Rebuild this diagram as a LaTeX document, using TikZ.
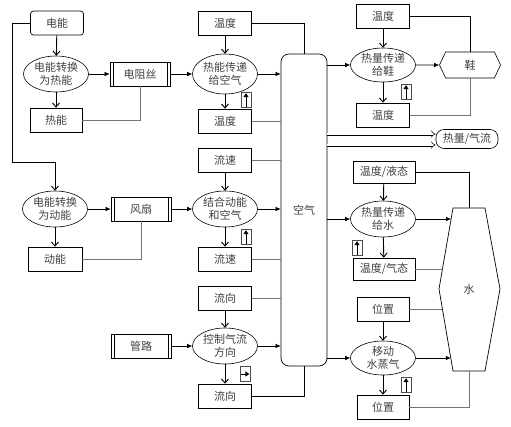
\documentclass[tikz,border=0pt]{standalone}
\usepackage{fontspec}
\setmainfont{Noto Sans CJK SC}
\usetikzlibrary{shapes.geometric,shapes.symbols,arrows.meta,calc}

\begin{document}
\begin{tikzpicture}
  [x=1pt, y=-1pt, font=\fontsize{11}{13}\selectfont, text=black!75,
   state box/.style={draw, line width=0.7pt, minimum width=53pt, minimum height=24pt, inner sep=1pt},
   act ell/.style={draw, ellipse, line width=0.6pt, minimum width=65pt, minimum height=36pt, inner sep=0pt, align=center},
   dev box/.style={state box, minimum width=60pt, path picture={
       \draw ([xshift=3pt]path picture bounding box.north west) -- ([xshift=3pt]path picture bounding box.south west);
       \draw ([xshift=-3pt]path picture bounding box.north east) -- ([xshift=-3pt]path picture bounding box.south east);}},
   sensor/.style={draw=black!70, line width=0.6pt, minimum width=10pt, minimum height=15pt, inner sep=0pt},
   sensor arrow/.style={-{Triangle[length=4pt,width=5pt]}, line width=1pt},
   h arrow/.style={-{Latex[length=5pt,width=4.5pt]}, line width=0.6pt},
   v arrow/.style={-{Straight Barb[length=4pt,width=7pt]}, line width=0.9pt},
   back line/.style={black!55, line width=0.6pt},
   double arrow/.style={double, double distance=2pt, line width=0.5pt, -{Implies}}]
  \useasboundingbox (0,0) rectangle (511,426);

  \node[state box, rounded corners=3pt] (power) at (57,23) {电能};
  \node[act ell] (conv1) at (56,74) {电能转换\\为热能};
  \node[dev box] (wire) at (140,74) {电阻丝};
  \node[state box, minimum width=52pt] (heat) at (56,120) {热能};
  \node[act ell] (conv2) at (55,209) {电能转换\\为动能};
  \node[dev box] (fan) at (141,209) {风扇};
  \node[state box, minimum width=54pt] (kin) at (55,259) {动能};
  \node[dev box] (pipe) at (141,346) {管路};

  \node[state box] (temp1) at (225,23) {温度};
  \node[act ell, minimum height=40pt] (xfer1) at (225,74) {热能传递\\给空气};
  \node[state box] (temp2) at (225,121) {温度};
  \node[sensor] (icon1) at (246,100) {};
  \node[state box] (speed1) at (225,160) {流速};
  \node[act ell] (mix) at (225,209) {结合动能\\和空气};
  \node[state box] (speed2) at (225,259) {流速};
  \node[sensor] (icon2) at (246,237) {};
  \node[state box] (dir1) at (225,298) {流向};
  \node[act ell] (steer) at (225,346) {控制气流\\方向};
  \node[state box] (dir2) at (225,396) {流向};
  \node[sensor] (icon3) at (245,374) {};

  \node[draw, rounded corners=8pt, line width=0.7pt, minimum width=46pt, minimum height=312pt] (air) at (304,210) {空气};

  \node[state box] (temp3) at (383,16) {温度};
  \node[act ell, minimum height=34pt] (shoexfer) at (383,65) {热量传递\\给鞋};
  \node[state box] (temp4) at (383,115) {温度};
  \node[sensor] (icon4) at (406,92) {};
  \node[draw, signal, signal to=west and east, signal pointer angle=130, line width=0.6pt,
        minimum width=61pt, minimum height=26pt, inner sep=1pt] (shoe) at (470,65) {鞋};
  \node[draw, rounded corners=8pt, line width=0.6pt, minimum width=62pt, minimum height=19pt, inner sep=1pt] (flow) at (467,139) {热量/气流};
  \node[state box, minimum width=62pt, minimum height=22pt] (liq) at (384,172) {温度/液态};
  \node[act ell] (boil) at (383,219) {热量传递\\给水};
  \node[state box, minimum width=62pt, minimum height=22pt] (gas) at (384,269) {温度/气态};
  \node[sensor] (icon5) at (357,248) {};
  \node[state box, minimum width=52pt] (pos1) at (383,309) {位置};
  \node[act ell, minimum height=34pt] (move) at (383,358) {移动\\水蒸气};
  \node[state box, minimum width=52pt] (pos2) at (383,407) {位置};
  \node[sensor] (icon6) at (406,385) {};

  \coordinate (w tl) at (453,208);
  \coordinate (w tr) at (485,208);
  \coordinate (w r) at (500,289);
  \coordinate (w br) at (485,371);
  \coordinate (w bl) at (453,371);
  \coordinate (w l) at (439,289);
  \draw[line width=0.7pt] (w tl) -- (w tr) -- (w r) -- (w br) -- (w bl) -- (w l) -- cycle;
  \node (water) at (469,289) {水};
  \coordinate (w top) at ($(w tl)!0.5!(w tr)$);
  \coordinate (w bot) at ($(w bl)!0.5!(w br)$);
  \coordinate (w in1) at ($(w tl)!0.136!(w l)$);
  \coordinate (w in2) at ($(w tl)!0.74!(w l)$);
  \coordinate (w in3) at ($(w l)!0.244!(w bl)$);
  \coordinate (w in4) at ($(w l)!0.84!(w bl)$);
  \coordinate (bend) at (12,162);

  \draw[v arrow] (power) -- (conv1);
  \draw[v arrow] (conv1) -- (heat);
  \draw[h arrow] (conv1) -- (wire);
  \draw[back line] (wire.south) |- (heat.east);
  \draw[h arrow] (wire) -- (xfer1);
  \draw[v arrow] (power.west) -| (bend) -| (conv2.north);
  \draw[v arrow] (conv2) -- (kin);
  \draw[h arrow] (conv2) -- (fan);
  \draw[back line] (fan.south) |- (kin.east);
  \draw[h arrow] (fan) -- (mix);
  \draw[h arrow] (pipe) -- (steer);

  \draw[v arrow] (temp1) -- (xfer1);
  \draw[v arrow] (xfer1) -- (temp2);
  \draw[line width=0.6pt] (temp1.east) -| (air.north);
  \draw[back line] (temp2.east) -- (temp2.east -| air.west);
  \draw[h arrow] (xfer1.east) -- (xfer1.east -| air.west);
  \draw[v arrow] (speed1) -- (mix);
  \draw[v arrow] (mix) -- (speed2);
  \draw[back line] (speed1.east) -- (speed1.east -| air.west);
  \draw[back line] (speed2.east) -- (speed2.east -| air.west);
  \draw[h arrow] (mix.east) -- (mix.east -| air.west);
  \draw[v arrow] (dir1) -- (steer);
  \draw[v arrow] (steer) -- (dir2);
  \draw[back line] (dir1.east) -- (dir1.east -| air.west);
  \draw[h arrow] (steer.east) -- (steer.east -| air.west);
  \draw[line width=0.6pt] (dir2.east) -| (air.south);

  \draw[sensor arrow] ([yshift=1pt]icon1.south) -- ([yshift=-1pt]icon1.north);
  \draw[sensor arrow] ([yshift=1pt]icon2.south) -- ([yshift=-1pt]icon2.north);
  \draw[sensor arrow] ([xshift=1pt]icon3.west) -- ([xshift=-1pt]icon3.east);
  \draw[sensor arrow] ([yshift=1pt]icon4.south) -- ([yshift=-1pt]icon4.north);
  \draw[sensor arrow] ([yshift=1pt]icon5.south) -- ([yshift=-1pt]icon5.north);
  \draw[sensor arrow] ([yshift=1pt]icon6.south) -- ([yshift=-1pt]icon6.north);

  \draw[h arrow] (air.east |- shoexfer.west) -- (shoexfer.west);
  \draw[v arrow] (temp3) -- (shoexfer);
  \draw[v arrow] (shoexfer) -- (temp4);
  \draw[h arrow] (shoexfer) -- (shoe);
  \draw[line width=0.6pt] (temp3.east) -| (shoe.north);
  \draw[back line] (temp4.east) -| (shoe.south);

  \coordinate (flow in1) at ([yshift=5pt]flow.west);
  \coordinate (flow in2) at ([yshift=-6pt]flow.west);
  \draw[double arrow] (air.east |- flow in1) -- (flow in1);
  \draw[double arrow] (air.east |- flow in2) -- (flow in2);

  \draw[h arrow] (air.east |- boil.west) -- (boil.west);
  \draw[v arrow] (liq) -- (boil);
  \draw[v arrow] (boil) -- (gas);
  \draw[line width=0.6pt] (liq.east) -| (w top);
  \draw[h arrow] (boil.east) -- (boil.east -| w in1);
  \draw[back line] (gas.east) -- (gas.east -| w in2);
  \draw[h arrow] (air.east |- move.west) -- (move.west);
  \draw[v arrow] (pos1) -- (move);
  \draw[v arrow] (move) -- (pos2);
  \draw[back line] (pos1.east) -- (pos1.east -| w in3);
  \draw[h arrow] (move.east) -- (move.east -| w in4);
  \draw[back line] (pos2.east) -| (w bot);
\end{tikzpicture}
\end{document}
